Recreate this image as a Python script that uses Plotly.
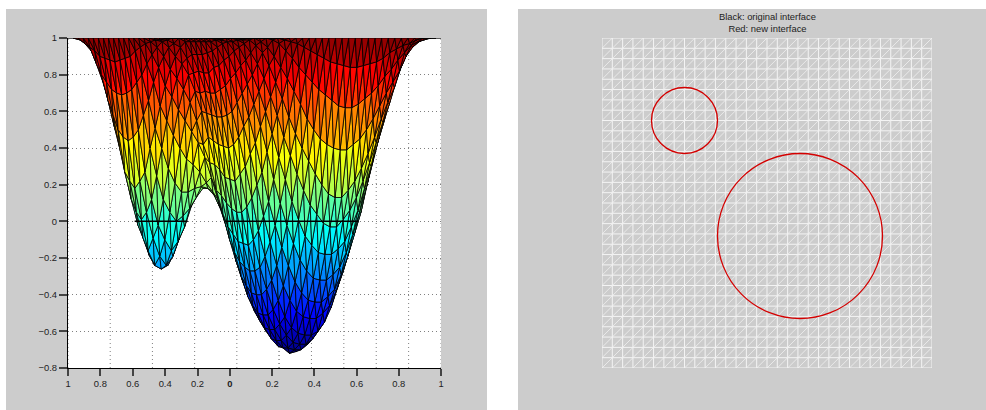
import math
import numpy as np
import plotly.graph_objects as go

# Surface heights read /: rows are y = 0..1, columns x = 0..1 (33 x 33)
z_rows = [
[1]*33,
[1,1,1,1,1,1,1,1,1,.99,.98,.97,.95,.93,.91,.89,.87,.86,.85,.84,.84,.85,.86,.87,.89,.92,.94,.96,.97,.99,1,1,1],
[1,1,1,1,1,1,1,1,.99,.97,.93,.89,.84,.80,.76,.72,.69,.66,.63,.62,.62,.64,.67,.70,.74,.79,.83,.88,.92,.96,.98,.99,1],
[1,1,1,1,1,1,1,.98,.95,.90,.84,.78,.71,.64,.56,.50,.45,.42,.40,.39,.39,.42,.45,.50,.56,.63,.70,.76,.82,.90,.95,.98,1],
[1,1,1,1,1,.99,.99,.96,.92,.85,.76,.67,.57,.48,.40,.33,.26,.20,.15,.13,.13,.17,.22,.29,.37,.46,.56,.65,.73,.84,.92,.97,1],
[1,1,1,1,1,.99,.97,.92,.86,.78,.68,.58,.46,.36,.26,.17,.09,.04,-.01,-.03,-.03,.01,.06,.13,.22,.32,.43,.54,.64,.77,.88,.95,1],
[1,1,1,1,1,.98,.95,.88,.80,.71,.60,.48,.35,.23,.11,.01,-.08,-.13,-.17,-.18,-.18,-.15,-.11,-.03,.06,.18,.30,.43,.55,.70,.84,.93,1],
[1,1,1,1,.99,.98,.93,.85,.75,.64,.52,.38,.23,.10,-.02,-.12,-.21,-.27,-.31,-.32,-.32,-.29,-.25,-.17,-.07,.05,.18,.32,.46,.63,.79,.91,1],
[1,1,1,1,.99,.97,.90,.81,.70,.57,.43,.27,.11,-.02,-.14,-.24,-.33,-.39,-.43,-.44,-.44,-.41,-.37,-.29,-.19,-.07,.05,.21,.37,.56,.74,.89,1],
[1,1,1,1,.98,.95,.88,.78,.65,.52,.37,.20,.03,-.11,-.24,-.35,-.43,-.49,-.52,-.53,-.53,-.50,-.46,-.38,-.28,-.16,-.03,.13,.30,.51,.71,.87,1],
[1,1,1,1,.98,.93,.85,.74,.60,.46,.30,.13,-.05,-.19,-.32,-.43,-.52,-.58,-.61,-.62,-.62,-.60,-.55,-.47,-.36,-.24,-.11,.05,.22,.46,.67,.84,1],
[1,1,1,1,.98,.92,.84,.72,.58,.42,.26,.08,-.10,-.25,-.37,-.48,-.56,-.62,-.66,-.67,-.67,-.64,-.59,-.51,-.41,-.28,-.14,.03,.19,.43,.64,.83,1],
[1,1,1,1,.98,.91,.81,.70,.57,.40,.22,.05,-.13,-.27,-.40,-.51,-.59,-.65,-.69,-.70,-.70,-.67,-.62,-.54,-.45,-.32,-.18,-.02,.15,.38,.62,.81,1],
[1,1,1,1,.98,.91,.81,.70,.57,.41,.23,.05,-.12,-.27,-.40,-.51,-.59,-.65,-.69,-.72,-.71,-.68,-.62,-.54,-.45,-.32,-.18,-.01,.16,.39,.62,.81,1],
[1,1,1,1,.98,.91,.82,.71,.58,.42,.24,.07,-.11,-.25,-.39,-.50,-.58,-.64,-.68,-.69,-.69,-.66,-.60,-.53,-.44,-.31,-.17,0,.17,.40,.63,.82,1],
[1,.99,.99,.97,.95,.89,.81,.70,.59,.44,.28,.10,-.07,-.22,-.35,-.46,-.54,-.60,-.64,-.65,-.65,-.62,-.57,-.49,-.39,-.27,-.12,.04,.21,.44,.65,.83,1],
[1,.99,.98,.95,.90,.86,.80,.71,.60,.46,.31,.14,-.03,-.17,-.30,-.41,-.49,-.55,-.58,-.59,-.59,-.57,-.52,-.44,-.33,-.21,-.07,.10,.26,.48,.68,.85,1],
[1,.98,.95,.90,.83,.78,.72,.65,.55,.42,.32,.17,.04,-.10,-.22,-.33,-.41,-.46,-.49,-.50,-.50,-.47,-.43,-.35,-.24,-.12,.02,.18,.33,.55,.72,.87,1],
[1,.97,.91,.84,.74,.68,.61,.55,.49,.43,.35,.24,.12,0,-.11,-.21,-.30,-.35,-.39,-.40,-.40,-.37,-.32,-.24,-.14,-.02,.11,.25,.40,.60,.76,.89,1],
[1,.95,.86,.76,.63,.55,.47,.40,.34,.31,.27,.21,.16,.08,.01,-.09,-.17,-.22,-.25,-.26,-.26,-.23,-.19,-.11,-.01,.10,.23,.37,.50,.68,.80,.91,1],
[1,.93,.80,.66,.51,.40,.29,.21,.16,.16,.18,.19,.18,.14,.09,.03,-.03,-.08,-.11,-.12,-.12,-.09,-.05,.03,.11,.23,.35,.48,.60,.73,.84,.93,1],
[1,.90,.76,.58,.40,.25,.12,.05,.00,.03,.07,.13,.18,.20,.20,.15,.12,.09,.07,.06,.06,.08,.12,.19,.27,.37,.48,.58,.68,.79,.89,.95,1],
[1,.89,.72,.50,.27,.12,-.02,-.10,-.16,-.11,-.03,.08,.18,.27,.33,.33,.31,.28,.26,.25,.24,.27,.30,.36,.43,.51,.60,.68,.76,.86,.93,.97,1],
[1,.88,.70,.46,.22,.05,-.09,-.19,-.24,-.19,-.09,.05,.18,.32,.42,.45,.46,.43,.42,.41,.41,.43,.46,.52,.57,.63,.70,.77,.84,.90,.95,.98,1],
[1,.87,.69,.44,.18,.01,-.16,-.24,-.26,-.24,-.16,.01,.18,.35,.50,.56,.60,.59,.58,.57,.57,.58,.60,.65,.70,.75,.80,.85,.91,.95,.98,.99,1],
[1,.88,.70,.46,.22,.05,-.09,-.19,-.24,-.19,-.09,.06,.22,.41,.56,.66,.71,.72,.71,.70,.70,.72,.74,.78,.81,.85,.88,.92,.95,.98,.99,1,1],
[1,.89,.72,.50,.27,.12,-.02,-.10,-.16,-.10,-.01,.12,.28,.46,.61,.72,.80,.82,.82,.81,.81,.83,.85,.88,.90,.93,.95,.97,.99,1,1,1,1],
[1,.90,.76,.58,.40,.25,.12,.05,.01,.06,.12,.24,.40,.55,.68,.78,.85,.89,.90,.90,.90,.91,.92,.94,.96,.97,.98,.99,1,1,1,1,1],
[1,.93,.80,.66,.51,.40,.29,.23,.20,.23,.29,.40,.51,.63,.74,.83,.90,.94,.97,.96,.96,.97,.98,.99,1,1,1,1,1,1,1,1,1],
[1,.95,.86,.76,.64,.55,.48,.43,.41,.43,.49,.56,.64,.72,.80,.88,.94,.97,.99,.99,.99,.99,1,1,1,1,1,1,1,1,1,1,1],
[1,.97,.93,.87,.80,.75,.71,.69,.68,.69,.71,.75,.80,.85,.91,.95,.98,.99,1,1,1,1,1,1,1,1,1,1,1,1,1,1,1],
[1,.99,.98,.96,.93,.91,.89,.88,.87,.88,.89,.91,.93,.95,.97,.98,.99,1,1,1,1,1,1,1,1,1,1,1,1,1,1,1,1],
[1]*33,
]
cells = 32
z_ticks = [1, .8, .6, .4, .2, 0, -.2, -.4, -.6, -.8]
z_labels = ["1", "0.8", "0.6", "0.4", "0.2", "0", "\u22120.2", "\u22120.4", "\u22120.6", "\u22120.8"]
plan_ticks = [.2, .4, .6, .8, 1]
plan_labels = ["0.2", "0.4", "0.6", "0.8", "1"]
circle_cx = [.25, .6]
circle_cy = [.75, .4]
circle_r = [.1, .25]
title_lines = ["Black: original interface", "Red: new interface"]

az = math.radians(37.5)
CA, SA = math.cos(az), math.sin(az)
def sx(x, y):
    return x * CA - y * SA

JET_POS = [0, .125, .375, .625, .875, 1]
JET_R = [0, 0, 0, 1, 1, .5]
JET_G = [0, 0, 1, 1, 0, 0]
JET_B = [.5, 1, 1, 0, 0, 0]
def jet(z, lo=-.72, hi=1.0):
    t = (math.floor(min(.9999, max(0, (z - lo) / (hi - lo))) * 64) + .5) / 64
    return "rgb(%d,%d,%d)" % tuple(int(255 * np.interp(t, JET_POS, c)) for c in (JET_R, JET_G, JET_B))

fig = go.Figure()

# back-wall grid of the 3D box
gx, gy = [], []
for t in [0] + plan_ticks:
    for s in (sx(t, 1), sx(1, t)):
        gx += [s, s, None]
        gy += [-.8, 1, None]
fig.add_trace(go.Scatter(x=gx, y=gy, mode="lines", line=dict(color="#808080", width=1, dash="1px,3px"),
                         hoverinfo="skip", showlegend=False, xaxis="x", yaxis="y"))

# triangles far to near
tris = []
for j in range(cells):
    for i in range(cells):
        tris.append(((i, j), (i + 1, j), (i + 1, j + 1)))
        tris.append(((i, j), (i + 1, j + 1), (i, j + 1)))
def depth(t):
    return sum(SA * p[0] + CA * p[1] for p in t)
tris.sort(key=depth, reverse=True)
traces = []
for t in tris:
    xs = [sx(p[0] / cells, p[1] / cells) for p in t]
    zs = [z_rows[p[1]][p[0]] for p in t]
    traces.append(go.Scatter(x=xs + xs[:1], y=zs + zs[:1], mode="lines", fill="toself",
                             fillcolor=jet(sum(zs) / 3), line=dict(color="black", width=.8),
                             hoverinfo="skip", showlegend=False, xaxis="x", yaxis="y"))
fig.add_traces(traces)

# original interface: circles in the plane z=0 seen edge-on
ix, iz = [], []
for cx, cy, r in zip(circle_cx, circle_cy, circle_r):
    c = sx(cx, cy)
    ix += [c - r, c + r, None]
    iz += [0, 0, None]
fig.add_trace(go.Scatter(x=ix, y=iz, mode="lines", line=dict(color="black", width=1.5),
                         hoverinfo="skip", showlegend=False, xaxis="x", yaxis="y"))

# right mesh
mx, my = [], []
for k in range(cells + 1):
    mx += [k / cells, k / cells, None, 0, 1, None]
    my += [0, 1, None, k / cells, k / cells, None]
fig.add_trace(go.Scatter(x=mx, y=my, mode="lines", line=dict(color="#f4f4f4", width=1), cliponaxis=False,
                         hoverinfo="skip", showlegend=False, xaxis="x2", yaxis="y2"))
dx, dy = [], []
for j in range(cells):
    for i in range(cells):
        dx += [i / cells, (i + 1) / cells, None]
        dy += [j / cells, (j + 1) / cells, None]
fig.add_trace(go.Scatter(x=dx, y=dy, mode="lines", line=dict(color="#f0f0f0", width=.8),
                         hoverinfo="skip", showlegend=False, xaxis="x2", yaxis="y2"))

W, H = 986, 410
px = lambda v: v / W
py = lambda v: 1 - v / H
shapes = [
    dict(type="rect", xref="paper", yref="paper", x0=px(6), x1=px(487), y0=py(410), y1=py(9),
         fillcolor="#cccccc", line_width=0, layer="below"),
    dict(type="rect", xref="paper", yref="paper", x0=px(518), x1=px(986), y0=py(410), y1=py(9),
         fillcolor="#cccccc", line_width=0, layer="below"),
    dict(type="rect", xref="paper", yref="paper", x0=px(68), x1=px(441), y0=py(368), y1=py(38),
         fillcolor="white", line_width=0, layer="below"),
]
for cx, cy, r in zip(circle_cx, circle_cy, circle_r):
    shapes.append(dict(type="circle", xref="x2", yref="y2", x0=cx - r, x1=cx + r, y0=cy - r, y1=cy + r,
                       line=dict(color="#d40000", width=1.3)))

font = dict(family="Liberation Sans", size=9.4, color="#222222")
xvals = [sx(0, t) for t in plan_ticks[::-1]] + [0] + [sx(t, 0) for t in plan_ticks]
xtext = plan_labels[::-1] + ["<b>0</b>"] + plan_labels
fig.update_layout(
    width=W, height=H, margin=dict(l=0, r=0, t=0, b=0, pad=0, autoexpand=False), paper_bgcolor="white",
    plot_bgcolor="rgba(0,0,0,0)", showlegend=False, shapes=shapes,
    xaxis=dict(domain=[px(68), px(441)], range=[sx(0, 1), sx(1, 0)], tickvals=xvals, ticktext=xtext,
               ticks="outside", ticklen=7, tickwidth=1.5, tickcolor="#444", showgrid=False, zeroline=False,
               showline=True, linecolor="black", linewidth=1.2, tickfont=font, tickangle=0, anchor="y", automargin=False),
    yaxis=dict(domain=[py(368), py(38)], range=[-.8, 1], tickvals=z_ticks, ticktext=z_labels,
               ticks="outside", ticklen=8, tickwidth=1.5, tickcolor="#444", showgrid=True, gridcolor="#808080", griddash="1px,3px",
               gridwidth=1, zeroline=False, showline=True, linecolor="black", linewidth=1.2, tickfont=font, anchor="x", automargin=False),
    xaxis2=dict(domain=[px(602), px(932)], range=[0, 1], showticklabels=False, ticks="",
                showgrid=False, zeroline=False, showline=False, anchor="y2", automargin=False),
    yaxis2=dict(domain=[py(368), py(38)], range=[0, 1], showticklabels=False, ticks="",
                showgrid=False, zeroline=False, showline=False, anchor="x2", automargin=False),
    annotations=[dict(text="<br>".join(title_lines), xref="paper", yref="paper", x=px(767), y=py(22.5),
                      xanchor="center", yanchor="middle", showarrow=False, font=font)],
)
fig.write_html("out.html", config={"displayModeBar": False},
               post_script="document.body.style.margin='0';document.body.style.overflow='hidden';")
